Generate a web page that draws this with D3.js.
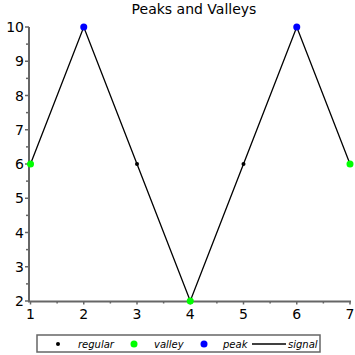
<!DOCTYPE html>
<html>
<head>
<meta charset="utf-8">
<script src="https://cdn.jsdelivr.net/npm/d3@7"></script>
<style>
  body { margin: 0; background: #fff; }
  text { font-family: "DejaVu Sans", sans-serif; }
</style>
</head>
<body>
<div id="chart"></div>
<script>
var xs = [1, 2, 3, 4, 5, 6, 7];
var signal = [6, 10, 6, 2, 6, 10, 6];
var kinds = ['valley', 'peak', 'regular', 'valley', 'regular', 'peak', 'valley'];
var xTicks = [1, 2, 3, 4, 5, 6, 7];
var yTicks = [2, 3, 4, 5, 6, 7, 8, 9, 10];

var width = 355, height = 355;
var axisColor = '#666';
var kindStyle = {
  regular: {color: 'black', r: 2},
  valley: {color: '#00ff00', r: 3.5},
  peak: {color: 'blue', r: 3.5}
};

var svg = d3.select('#chart').append('svg')
  .attr('width', width)
  .attr('height', height);

var x = d3.scaleLinear().domain([1, 7]).range([30.5, 350]);
var y = d3.scaleLinear().domain([2, 10]).range([301, 27]);

svg.append('text')
  .attr('x', 194).attr('y', 14)
  .attr('text-anchor', 'middle')
  .attr('font-size', 14)
  .text('Peaks and Valleys');

// axes
var gy = svg.append('g').attr('transform', 'translate(29,0)');
gy.append('line').attr('x1', 0).attr('x2', 0)
  .attr('y1', y(10)).attr('y2', y(2) + 1)
  .attr('stroke', axisColor).attr('stroke-width', 2);
d3.range(2, 10.01, 0.5).forEach(function(v){
  gy.append('line').attr('x1', 0).attr('x2', Number.isInteger(v) ? -4 : -3)
    .attr('y1', y(v)).attr('y2', y(v))
    .attr('stroke', axisColor).attr('stroke-width', 1.5);
});
yTicks.forEach(function(v){
  gy.append('text').attr('x', -5).attr('y', y(v) + 5)
    .attr('text-anchor', 'end').attr('font-size', 14)
    .text(v);
});

var gx = svg.append('g').attr('transform', 'translate(0,301.5)');
gx.append('line').attr('x1', 28).attr('x2', x(7) + 1)
  .attr('y1', 0).attr('y2', 0)
  .attr('stroke', axisColor).attr('stroke-width', 2);
d3.range(1, 7.01, 0.5).forEach(function(v){
  gx.append('line').attr('x1', x(v)).attr('x2', x(v))
    .attr('y1', 0).attr('y2', Number.isInteger(v) ? 3 : 2)
    .attr('stroke', axisColor).attr('stroke-width', 1.5);
});
xTicks.forEach(function(v){
  gx.append('text').attr('x', x(v)).attr('y', 17)
    .attr('text-anchor', 'middle').attr('font-size', 14)
    .text(v);
});

// signal line
var pts = xs.map(function(d, i){ return {x: d, y: signal[i], kind: kinds[i]}; });
svg.append('path')
  .datum(pts)
  .attr('fill', 'none')
  .attr('stroke', 'black')
  .attr('stroke-width', 1.3)
  .attr('d', d3.line().x(function(d){ return x(d.x); }).y(function(d){ return y(d.y); }));

svg.selectAll('.pt').data(pts).enter().append('circle')
  .attr('class', 'pt')
  .attr('cx', function(d){ return x(d.x); })
  .attr('cy', function(d){ return y(d.y); })
  .attr('r', function(d){ return kindStyle[d.kind].r; })
  .attr('fill', function(d){ return kindStyle[d.kind].color; });

// legend
var lg = svg.append('g');
lg.append('rect').attr('x', 37).attr('y', 335).attr('width', 283).attr('height', 17)
  .attr('fill', 'white').attr('stroke', axisColor).attr('stroke-width', 1.5);
var ly = 344;
lg.append('circle').attr('cx', 58).attr('cy', ly).attr('r', 2).attr('fill', 'black');
lg.append('text').attr('x', 78).attr('y', ly + 4).attr('font-size', 10).attr('font-style', 'italic').text('regular');
lg.append('circle').attr('cx', 134).attr('cy', ly).attr('r', 3.5).attr('fill', '#00ff00');
lg.append('text').attr('x', 154).attr('y', ly + 4).attr('font-size', 10).attr('font-style', 'italic').text('valley');
lg.append('circle').attr('cx', 204).attr('cy', ly).attr('r', 3.5).attr('fill', 'blue');
lg.append('text').attr('x', 223).attr('y', ly + 4).attr('font-size', 10).attr('font-style', 'italic').text('peak');
lg.append('line').attr('x1', 252).attr('x2', 286).attr('y1', ly).attr('y2', ly)
  .attr('stroke', 'black').attr('stroke-width', 1.3);
lg.append('text').attr('x', 288).attr('y', ly + 4).attr('font-size', 10).attr('font-style', 'italic').text('signal');
</script>
</body>
</html>
